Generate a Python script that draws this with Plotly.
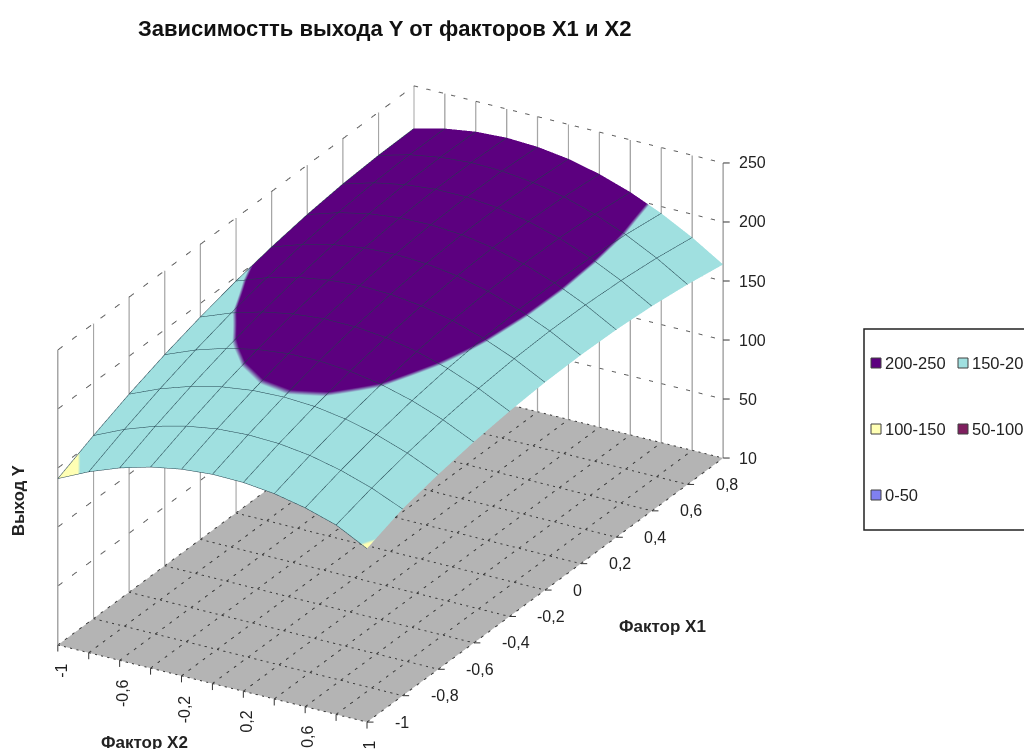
import plotly.graph_objects as go

# Factor levels on the two horizontal axes
factor_x1 = [-1, -0.8, -0.6, -0.4, -0.2, 0, 0.2, 0.4, 0.6, 0.8, 1]
factor_x2 = [-1, -0.8, -0.6, -0.4, -0.2, 0, 0.2, 0.4, 0.6, 0.8, 1]

# Yield Y: one row per X1 level, one column per X2 level
yield_y = [
    [141.0, 153.3, 163.1, 170.4, 175.1, 177.3, 176.9, 174.0, 168.5, 160.5, 147.0],
    [155.1, 166.9, 176.1, 182.7, 186.9, 188.4, 187.5, 184.0, 177.9, 169.4, 158.2],
    [167.8, 178.9, 187.5, 193.6, 197.1, 198.1, 196.6, 192.5, 185.8, 176.7, 165.0],
    [178.9, 189.4, 197.4, 202.9, 205.9, 206.3, 204.1, 199.4, 192.2, 182.5, 170.2],
    [188.4, 198.4, 205.8, 210.7, 213.1, 212.9, 210.2, 204.9, 197.1, 186.7, 173.8],
    [196.5, 205.9, 212.7, 217.0, 218.8, 218.0, 214.7, 208.8, 200.4, 189.5, 176.0],
    [203.0, 211.8, 218.1, 221.8, 223.0, 221.6, 217.7, 211.2, 202.2, 190.7, 176.6],
    [208.1, 216.3, 221.9, 225.0, 225.6, 223.7, 219.2, 212.1, 202.5, 190.4, 175.8],
    [211.6, 219.2, 224.2, 226.8, 226.8, 224.2, 219.1, 211.5, 201.3, 188.6, 173.4],
    [213.5, 220.6, 225.0, 227.0, 226.4, 223.2, 217.6, 209.3, 198.6, 185.3, 169.4],
    [214.0, 220.4, 224.3, 225.7, 224.5, 220.8, 214.5, 205.7, 194.3, 180.4, 164.0],
]

# Tick labels
x2_ticks = [-1, -0.6, -0.2, 0.2, 0.6, 1]
x2_labels = ["-1", "-0,6", "-0,2", "0,2", "0,6", "1"]
x1_ticks = [-1, -0.8, -0.6, -0.4, -0.2, 0, 0.2, 0.4, 0.6, 0.8]
x1_labels = ["-1", "-0,8", "-0,6", "-0,4", "-0,2", "0", "0,2", "0,4", "0,6", "0,8"]
y_ticks = [0, 50, 100, 150, 200, 250]
y_labels = ["10", "50", "100", "150", "200", "250"]

# Value bands and their colours, drawn in the legend and on the surface
bands = ["200-250", "150-200", "100-150", "50-100", "0-50"]
band_colors = ["#5c007f", "#a0e0e0", "#ffffb4", "#7f1f5f", "#8080f0"]
legend_cells = [(0, 0), (1, 0), (0, 1), (1, 1), (0, 2)]

steps = []
for i, color in enumerate(reversed(band_colors)):
    steps += [[i / 5, color], [(i + 1) / 5, color]]

fig = go.Figure()

fig.add_trace(go.Surface(
    x=factor_x2, y=factor_x1, z=yield_y,
    cmin=0, cmax=250, colorscale=steps, showscale=False, hoverinfo="skip",
    lighting=dict(ambient=1, diffuse=0, specular=0, fresnel=0, roughness=1),
    contours=dict(
        x=dict(show=True, start=-1, end=1, size=0.2, color="#1f3f4c", width=1),
        y=dict(show=True, start=-1, end=1, size=0.2, color="#1f3f4c", width=1),
    ),
))


def wall_line(xs, ys, zs, color, dash, width=2):
    fig.add_trace(go.Scatter3d(
        x=xs, y=ys, z=zs, mode="lines", hoverinfo="skip", showlegend=False,
        line=dict(color=color, width=width, dash=dash),
    ))


x_lo, x_hi = factor_x2[0], factor_x2[-1]
y_lo, y_hi = factor_x1[0], factor_x1[-1]
z_lo, z_hi = y_ticks[0], y_ticks[-1]

# Dashed mesh on the floor
for v in factor_x2:
    wall_line([v, v], [y_lo, y_hi], [z_lo, z_lo], "#3a3a3a", "dash")
for v in factor_x1:
    wall_line([x_lo, x_hi], [v, v], [z_lo, z_lo], "#3a3a3a", "dash")

# Solid verticals on the two back walls
for v in factor_x2:
    wall_line([v, v], [y_hi, y_hi], [z_lo, z_hi], "#a6a6a6", "solid", width=3)
for v in factor_x1:
    wall_line([x_lo, x_lo], [v, v], [z_lo, z_hi], "#a6a6a6", "solid", width=3)

# Dashed horizontals around the back walls
for v in y_ticks[1:]:
    wall_line([x_lo, x_lo, x_hi], [y_lo, y_hi, y_hi], [v, v, v], "#606060", "dash")

tick_font = dict(family="Liberation Sans", size=16, color="#222222")
tick_color = "#333333"


def tick_mark(x, y, z, ax, ay):
    return dict(x=x, y=y, z=z, text="", showarrow=True, arrowhead=0, arrowwidth=1,
                arrowcolor=tick_color, ax=ax, ay=ay, standoff=0)


scene_notes = []
# Vertical axis sits on the right-hand corner
for value, label in zip(y_ticks, y_labels):
    scene_notes.append(tick_mark(x_hi, y_hi, value, 8, 0))
    scene_notes.append(dict(x=x_hi, y=y_hi, z=value, text=label, showarrow=False,
                            xanchor="left", yanchor="middle", xshift=14, font=tick_font))
# X1 runs along the front-right floor edge
for value, label in zip(x1_ticks, x1_labels):
    scene_notes.append(tick_mark(x_hi, value, z_lo, 8, 0))
    scene_notes.append(dict(x=x_hi, y=value, z=z_lo, text=label, showarrow=False,
                            xanchor="left", yanchor="middle", xshift=26, font=tick_font))
# X2 runs along the front-left floor edge, labels turned upright
for value in factor_x2:
    scene_notes.append(tick_mark(value, y_lo, z_lo, 0, 8))
for value, label in zip(x2_ticks, x2_labels):
    scene_notes.append(dict(x=value, y=y_lo, z=z_lo, text=label, showarrow=False, textangle=-90,
                            xanchor="center", yanchor="top", xshift=3, yshift=-17, font=tick_font))

axis_common = dict(showgrid=False, zeroline=False, showline=False, showspikes=False,
                   ticks="", showticklabels=False, title=dict(text=""))

fig.update_layout(
    width=1024, height=749,
    margin=dict(l=0, r=0, t=0, b=0),
    paper_bgcolor="white",
    showlegend=False,
    scene=dict(
        domain=dict(x=[0, 781 / 1024], y=[1 - 748 / 749, 1 - 60 / 749]),
        aspectmode="manual",
        aspectratio=dict(x=1.039, y=2.064, z=0.95),
        camera=dict(
            projection=dict(type="orthographic"),
            center=dict(x=0, y=0, z=0),
            up=dict(x=0, y=0, z=1),
            eye=dict(x=0.4529 * 2, y=-0.781 * 2, z=0.4299 * 2),
        ),
        xaxis=dict(axis_common, range=[-1, 1], showbackground=True, backgroundcolor="white"),
        yaxis=dict(axis_common, range=[-1, 1], showbackground=True, backgroundcolor="white"),
        zaxis=dict(axis_common, range=[0, 250], showbackground=True, backgroundcolor="#b4b4b4"),
        bgcolor="white",
        annotations=scene_notes,
    ),
)


def px_x(v):
    return v / 1024


def px_y(v):
    return 1 - v / 749


def text(x, y, s, size=14, bold=False, angle=0, anchor="center", color="#222222"):
    fig.add_annotation(
        x=px_x(x), y=px_y(y), xref="paper", yref="paper", showarrow=False,
        text=f"<b>{s}</b>" if bold else s, textangle=angle, xanchor=anchor, yanchor="middle",
        font=dict(family="Liberation Sans", size=size, color=color),
    )


text(385, 28, "Зависимостть выхода Y от факторов X1 и X2", size=22, bold=True, color="#111111")
text(18, 501, "Выход Y", size=16.5, bold=True, angle=-90)
text(662, 626, "Фактор X1", size=17, bold=True)
text(144, 742, "Фактор X2", size=17, bold=True)

# Legend frame runs past the right edge of the page
fig.add_shape(type="rect", xref="paper", yref="paper",
              x0=px_x(864), x1=px_x(1060), y0=px_y(530), y1=px_y(329),
              line=dict(color="#222222", width=1.5), fillcolor="white")
cell_x = [871, 958]
cell_y = [363, 429, 495]
for name, color, (cx, cy) in zip(bands, band_colors, legend_cells):
    sx, sy = cell_x[cx], cell_y[cy]
    fig.add_shape(type="rect", xref="paper", yref="paper",
                  x0=px_x(sx), x1=px_x(sx + 10), y0=px_y(sy + 5), y1=px_y(sy - 5),
                  line=dict(color="#404040", width=1), fillcolor=color)
    text(sx + 12, sy, name, size=16.5, anchor="left")

fig.write_html("out.html")
